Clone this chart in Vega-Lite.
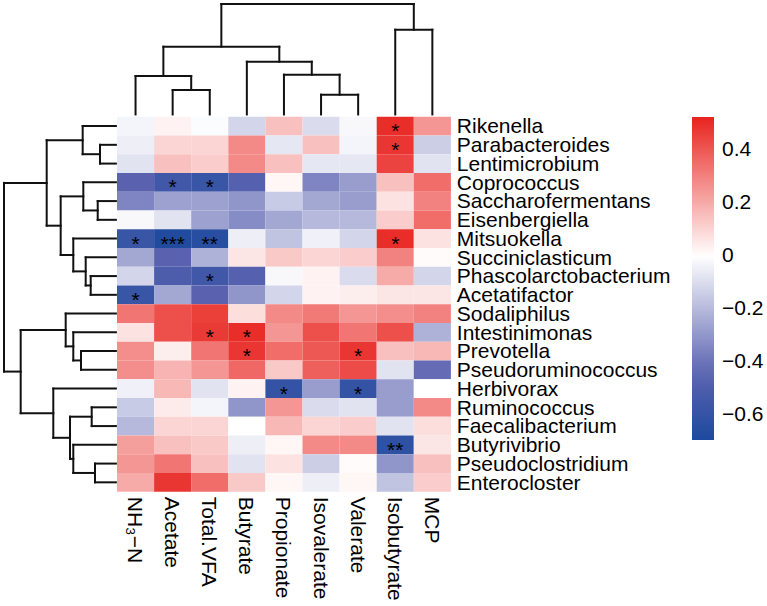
{
  "$schema": "https://vega.github.io/schema/vega-lite/v6.json",
  "width": 767,
  "height": 606,
  "autosize": {"type": "none"},
  "padding": 0,
  "background": "white",
  "config": {"view": {"stroke": null}, "font": "Liberation Sans"},
  "datasets": {
    "rowOrder": [
      {"taxon": "Rikenella", "r": 0},
      {"taxon": "Parabacteroides", "r": 1},
      {"taxon": "Lentimicrobium", "r": 2},
      {"taxon": "Coprococcus", "r": 3},
      {"taxon": "Saccharofermentans", "r": 4},
      {"taxon": "Eisenbergiella", "r": 5},
      {"taxon": "Mitsuokella", "r": 6},
      {"taxon": "Succiniclasticum", "r": 7},
      {"taxon": "Phascolarctobacterium", "r": 8},
      {"taxon": "Acetatifactor", "r": 9},
      {"taxon": "Sodaliphilus", "r": 10},
      {"taxon": "Intestinimonas", "r": 11},
      {"taxon": "Prevotella", "r": 12},
      {"taxon": "Pseudoruminococcus", "r": 13},
      {"taxon": "Herbivorax", "r": 14},
      {"taxon": "Ruminococcus", "r": 15},
      {"taxon": "Faecalibacterium", "r": 16},
      {"taxon": "Butyrivibrio", "r": 17},
      {"taxon": "Pseudoclostridium", "r": 18},
      {"taxon": "Enterocloster", "r": 19}
    ],
    "colOrder": [
      {"key": "NH3N", "label": "NH₃−N", "c": 0},
      {"key": "Acetate", "label": "Acetate", "c": 1},
      {"key": "TotalVFA", "label": "Total.VFA", "c": 2},
      {"key": "Butyrate", "label": "Butyrate", "c": 3},
      {"key": "Propionate", "label": "Propionate", "c": 4},
      {"key": "Isovalerate", "label": "Isovalerate", "c": 5},
      {"key": "Valerate", "label": "Valerate", "c": 6},
      {"key": "Isobutyrate", "label": "Isobutyrate", "c": 7},
      {"key": "MCP", "label": "MCP", "c": 8}
    ],
    "cells": [
      {"taxon": "Rikenella", "NH3N": -0.03, "Acetate": 0.03, "TotalVFA": -0.01, "Butyrate": -0.12, "Propionate": 0.15, "Isovalerate": -0.10, "Valerate": -0.02, "Isobutyrate": 0.50, "MCP": 0.25},
      {"taxon": "Parabacteroides", "NH3N": -0.05, "Acetate": 0.10, "TotalVFA": 0.10, "Butyrate": 0.28, "Propionate": -0.07, "Isovalerate": 0.15, "Valerate": -0.03, "Isobutyrate": 0.48, "MCP": -0.14},
      {"taxon": "Lentimicrobium", "NH3N": -0.08, "Acetate": 0.15, "TotalVFA": 0.12, "Butyrate": 0.28, "Propionate": 0.15, "Isovalerate": -0.07, "Valerate": -0.07, "Isobutyrate": 0.45, "MCP": -0.08},
      {"taxon": "Coprococcus", "NH3N": -0.45, "Acetate": -0.55, "TotalVFA": -0.58, "Butyrate": -0.47, "Propionate": 0.02, "Isovalerate": -0.35, "Valerate": -0.28, "Isobutyrate": 0.15, "MCP": 0.35},
      {"taxon": "Saccharofermentans", "NH3N": -0.35, "Acetate": -0.27, "TotalVFA": -0.27, "Butyrate": -0.30, "Propionate": -0.15, "Isovalerate": -0.25, "Valerate": -0.28, "Isobutyrate": 0.07, "MCP": 0.30},
      {"taxon": "Eisenbergiella", "NH3N": -0.02, "Acetate": -0.08, "TotalVFA": -0.27, "Butyrate": -0.33, "Propionate": -0.25, "Isovalerate": -0.20, "Valerate": -0.20, "Isobutyrate": 0.12, "MCP": 0.35},
      {"taxon": "Mitsuokella", "NH3N": -0.58, "Acetate": -0.68, "TotalVFA": -0.65, "Butyrate": -0.05, "Propionate": -0.17, "Isovalerate": -0.04, "Valerate": -0.12, "Isobutyrate": 0.50, "MCP": 0.07},
      {"taxon": "Succiniclasticum", "NH3N": -0.25, "Acetate": -0.45, "TotalVFA": -0.22, "Butyrate": 0.06, "Propionate": 0.13, "Isovalerate": 0.10, "Valerate": 0.12, "Isobutyrate": 0.30, "MCP": 0.01},
      {"taxon": "Phascolarctobacterium", "NH3N": -0.12, "Acetate": -0.50, "TotalVFA": -0.55, "Butyrate": -0.47, "Propionate": -0.02, "Isovalerate": 0.03, "Valerate": -0.10, "Isobutyrate": 0.20, "MCP": -0.12},
      {"taxon": "Acetatifactor", "NH3N": -0.58, "Acetate": -0.25, "TotalVFA": -0.45, "Butyrate": -0.30, "Propionate": -0.12, "Isovalerate": 0.03, "Valerate": 0.04, "Isobutyrate": 0.06, "MCP": 0.06},
      {"taxon": "Sodaliphilus", "NH3N": 0.33, "Acetate": 0.42, "TotalVFA": 0.46, "Butyrate": 0.08, "Propionate": 0.28, "Isovalerate": 0.32, "Valerate": 0.25, "Isobutyrate": 0.27, "MCP": 0.30},
      {"taxon": "Intestinimonas", "NH3N": 0.07, "Acetate": 0.42, "TotalVFA": 0.47, "Butyrate": 0.50, "Propionate": 0.25, "Isovalerate": 0.42, "Valerate": 0.33, "Isobutyrate": 0.42, "MCP": -0.22},
      {"taxon": "Prevotella", "NH3N": 0.27, "Acetate": 0.04, "TotalVFA": 0.33, "Butyrate": 0.48, "Propionate": 0.35, "Isovalerate": 0.40, "Valerate": 0.48, "Isobutyrate": 0.15, "MCP": 0.17},
      {"taxon": "Pseudoruminococcus", "NH3N": 0.27, "Acetate": 0.18, "TotalVFA": 0.25, "Butyrate": 0.36, "Propionate": 0.13, "Isovalerate": 0.38, "Valerate": 0.43, "Isobutyrate": -0.08, "MCP": -0.42},
      {"taxon": "Herbivorax", "NH3N": -0.04, "Acetate": 0.17, "TotalVFA": -0.08, "Butyrate": 0.03, "Propionate": -0.60, "Isovalerate": -0.28, "Valerate": -0.60, "Isobutyrate": -0.28, "MCP": 0.00},
      {"taxon": "Ruminococcus", "NH3N": -0.15, "Acetate": 0.05, "TotalVFA": -0.03, "Butyrate": -0.30, "Propionate": 0.25, "Isovalerate": -0.10, "Valerate": -0.08, "Isobutyrate": -0.28, "MCP": 0.28},
      {"taxon": "Faecalibacterium", "NH3N": -0.20, "Acetate": 0.10, "TotalVFA": 0.10, "Butyrate": 0.00, "Propionate": 0.17, "Isovalerate": 0.10, "Valerate": 0.12, "Isobutyrate": -0.08, "MCP": 0.08},
      {"taxon": "Butyrivibrio", "NH3N": 0.23, "Acetate": 0.15, "TotalVFA": 0.13, "Butyrate": -0.05, "Propionate": 0.02, "Isovalerate": 0.28, "Valerate": 0.28, "Isobutyrate": -0.62, "MCP": 0.06},
      {"taxon": "Pseudoclostridium", "NH3N": 0.25, "Acetate": 0.33, "TotalVFA": 0.15, "Butyrate": -0.08, "Propionate": 0.07, "Isovalerate": -0.14, "Valerate": 0.01, "Isobutyrate": -0.30, "MCP": 0.15},
      {"taxon": "Enterocloster", "NH3N": 0.20, "Acetate": 0.48, "TotalVFA": 0.35, "Butyrate": 0.13, "Propionate": 0.02, "Isovalerate": -0.05, "Valerate": 0.02, "Isobutyrate": -0.17, "MCP": 0.12}
    ],
    "stars": [
      {"taxon": "Rikenella", "key": "Isobutyrate", "s": "*"},
      {"taxon": "Parabacteroides", "key": "Isobutyrate", "s": "*"},
      {"taxon": "Coprococcus", "key": "Acetate", "s": "*"},
      {"taxon": "Coprococcus", "key": "TotalVFA", "s": "*"},
      {"taxon": "Mitsuokella", "key": "NH3N", "s": "*"},
      {"taxon": "Mitsuokella", "key": "Acetate", "s": "***"},
      {"taxon": "Mitsuokella", "key": "TotalVFA", "s": "**"},
      {"taxon": "Mitsuokella", "key": "Isobutyrate", "s": "*"},
      {"taxon": "Phascolarctobacterium", "key": "TotalVFA", "s": "*"},
      {"taxon": "Acetatifactor", "key": "NH3N", "s": "*"},
      {"taxon": "Intestinimonas", "key": "TotalVFA", "s": "*"},
      {"taxon": "Intestinimonas", "key": "Butyrate", "s": "*"},
      {"taxon": "Prevotella", "key": "Butyrate", "s": "*"},
      {"taxon": "Prevotella", "key": "Valerate", "s": "*"},
      {"taxon": "Herbivorax", "key": "Propionate", "s": "*"},
      {"taxon": "Herbivorax", "key": "Valerate", "s": "*"},
      {"taxon": "Butyrivibrio", "key": "Isobutyrate", "s": "**"}
    ],
    "rowTree": [
      {"a": -0.458, "b": -0.458, "p": 1.5, "q": 2.5},
      {"a": -0.03, "b": -0.458, "p": 1.5, "q": 1.5},
      {"a": -0.03, "b": -0.458, "p": 2.5, "q": 2.5},
      {"a": -0.925, "b": -0.925, "p": 0.5, "q": 2.0},
      {"a": -0.03, "b": -0.925, "p": 0.5, "q": 0.5},
      {"a": -0.458, "b": -0.925, "p": 2.0, "q": 2.0},
      {"a": -0.52, "b": -0.52, "p": 4.5, "q": 5.5},
      {"a": -0.03, "b": -0.52, "p": 4.5, "q": 4.5},
      {"a": -0.03, "b": -0.52, "p": 5.5, "q": 5.5},
      {"a": -0.908, "b": -0.908, "p": 3.5, "q": 5.0},
      {"a": -0.03, "b": -0.908, "p": 3.5, "q": 3.5},
      {"a": -0.52, "b": -0.908, "p": 5.0, "q": 5.0},
      {"a": -0.709, "b": -0.709, "p": 8.5, "q": 9.5},
      {"a": -0.03, "b": -0.709, "p": 8.5, "q": 8.5},
      {"a": -0.03, "b": -0.709, "p": 9.5, "q": 9.5},
      {"a": -0.844, "b": -0.844, "p": 7.5, "q": 9.0},
      {"a": -0.03, "b": -0.844, "p": 7.5, "q": 7.5},
      {"a": -0.709, "b": -0.844, "p": 9.0, "q": 9.0},
      {"a": -1.178, "b": -1.178, "p": 6.5, "q": 8.25},
      {"a": -0.03, "b": -1.178, "p": 6.5, "q": 6.5},
      {"a": -0.844, "b": -1.178, "p": 8.25, "q": 8.25},
      {"a": -1.518, "b": -1.518, "p": 4.25, "q": 7.375},
      {"a": -0.908, "b": -1.518, "p": 4.25, "q": 4.25},
      {"a": -1.178, "b": -1.518, "p": 7.375, "q": 7.375},
      {"a": -1.895, "b": -1.895, "p": 1.25, "q": 5.8125},
      {"a": -0.925, "b": -1.895, "p": 1.25, "q": 1.25},
      {"a": -1.518, "b": -1.895, "p": 5.8125, "q": 5.8125},
      {"a": -0.97, "b": -0.97, "p": 12.5, "q": 13.5},
      {"a": -0.03, "b": -0.97, "p": 12.5, "q": 12.5},
      {"a": -0.03, "b": -0.97, "p": 13.5, "q": 13.5},
      {"a": -1.178, "b": -1.178, "p": 11.5, "q": 13.0},
      {"a": -0.03, "b": -1.178, "p": 11.5, "q": 11.5},
      {"a": -0.97, "b": -1.178, "p": 13.0, "q": 13.0},
      {"a": -1.383, "b": -1.383, "p": 10.5, "q": 12.25},
      {"a": -0.03, "b": -1.383, "p": 10.5, "q": 10.5},
      {"a": -1.178, "b": -1.383, "p": 12.25, "q": 12.25},
      {"a": -0.682, "b": -0.682, "p": 15.5, "q": 16.5},
      {"a": -0.03, "b": -0.682, "p": 15.5, "q": 15.5},
      {"a": -0.03, "b": -0.682, "p": 16.5, "q": 16.5},
      {"a": -0.593, "b": -0.593, "p": 18.5, "q": 19.5},
      {"a": -0.03, "b": -0.593, "p": 18.5, "q": 18.5},
      {"a": -0.03, "b": -0.593, "p": 19.5, "q": 19.5},
      {"a": -1.178, "b": -1.178, "p": 17.5, "q": 19.0},
      {"a": -0.03, "b": -1.178, "p": 17.5, "q": 17.5},
      {"a": -0.593, "b": -1.178, "p": 19.0, "q": 19.0},
      {"a": -1.267, "b": -1.267, "p": 16.0, "q": 18.25},
      {"a": -0.682, "b": -1.267, "p": 16.0, "q": 16.0},
      {"a": -1.178, "b": -1.267, "p": 18.25, "q": 18.25},
      {"a": -1.717, "b": -1.717, "p": 14.5, "q": 17.125},
      {"a": -0.03, "b": -1.717, "p": 14.5, "q": 14.5},
      {"a": -1.267, "b": -1.717, "p": 17.125, "q": 17.125},
      {"a": -2.596, "b": -2.596, "p": 11.375, "q": 15.8125},
      {"a": -1.383, "b": -2.596, "p": 11.375, "q": 11.375},
      {"a": -1.717, "b": -2.596, "p": 15.8125, "q": 15.8125},
      {"a": -3.046, "b": -3.046, "p": 3.53125, "q": 13.59375},
      {"a": -1.895, "b": -3.046, "p": 3.53125, "q": 3.53125},
      {"a": -2.596, "b": -3.046, "p": 13.59375, "q": 13.59375}
    ],
    "colTree": [
      {"p": 1.5, "q": 2.5, "a": -1.424, "b": -1.424},
      {"p": 1.5, "q": 1.5, "a": -0.12, "b": -1.424},
      {"p": 2.5, "q": 2.5, "a": -0.12, "b": -1.424},
      {"p": 0.5, "q": 2.0, "a": -2.171, "b": -2.171},
      {"p": 0.5, "q": 0.5, "a": -0.12, "b": -2.171},
      {"p": 2.0, "q": 2.0, "a": -1.424, "b": -2.171},
      {"p": 5.5, "q": 6.5, "a": -1.173, "b": -1.173},
      {"p": 5.5, "q": 5.5, "a": -0.12, "b": -1.173},
      {"p": 6.5, "q": 6.5, "a": -0.12, "b": -1.173},
      {"p": 4.5, "q": 6.0, "a": -2.24, "b": -2.24},
      {"p": 4.5, "q": 4.5, "a": -0.12, "b": -2.24},
      {"p": 6.0, "q": 6.0, "a": -1.173, "b": -2.24},
      {"p": 3.5, "q": 5.25, "a": -2.933, "b": -2.933},
      {"p": 3.5, "q": 3.5, "a": -0.12, "b": -2.933},
      {"p": 5.25, "q": 5.25, "a": -2.24, "b": -2.933},
      {"p": 1.25, "q": 4.375, "a": -3.733, "b": -3.733},
      {"p": 1.25, "q": 1.25, "a": -2.171, "b": -3.733},
      {"p": 4.375, "q": 4.375, "a": -2.933, "b": -3.733},
      {"p": 7.5, "q": 8.5, "a": -4.64, "b": -4.64},
      {"p": 7.5, "q": 7.5, "a": -0.12, "b": -4.64},
      {"p": 8.5, "q": 8.5, "a": -0.12, "b": -4.64},
      {"p": 2.8125, "q": 8.0, "a": -6.011, "b": -6.011},
      {"p": 2.8125, "q": 2.8125, "a": -3.733, "b": -6.011},
      {"p": 8.0, "q": 8.0, "a": -4.64, "b": -6.011}
    ]
  },
  "layer": [
    {
      "data": {"name": "cells"},
      "transform": [
        {"fold": ["NH3N", "Acetate", "TotalVFA", "Butyrate", "Propionate", "Isovalerate", "Valerate", "Isobutyrate", "MCP"], "as": ["key", "v"]},
        {"lookup": "taxon", "from": {"data": {"name": "rowOrder"}, "key": "taxon", "fields": ["r"]}},
        {"lookup": "key", "from": {"data": {"name": "colOrder"}, "key": "key", "fields": ["c"]}},
        {"calculate": "datum.r + 1", "as": "r1"},
        {"calculate": "datum.c + 1", "as": "c1"}
      ],
      "mark": {"type": "rect", "strokeWidth": 0},
      "encoding": {
        "x": {"field": "c", "type": "quantitative", "axis": null, "scale": {"domain": [-3.1536, 17.5202], "nice": false, "zero": false}},
        "x2": {"field": "c1"},
        "y": {"field": "r", "type": "quantitative", "axis": null, "scale": {"domain": [-6.224, 26.096], "nice": false, "zero": false, "reverse": true}},
        "y2": {"field": "r1"},
        "color": {
          "field": "v",
          "type": "quantitative",
          "scale": {"domain": [-0.694, -0.45, 0, 0.526], "range": ["#1C4A9E", "#5A62B0", "#FFFFFF", "#E8231E"], "interpolate": "rgb"},
          "legend": {
            "orient": "none",
            "legendX": 692,
            "legendY": 117,
            "direction": "vertical",
            "title": null,
            "gradientLength": 323,
            "gradientThickness": 22,
            "gradientStrokeWidth": 0,
            "values": [-0.6, -0.4, -0.2, 0, 0.2, 0.4],
            "format": ".1~f",
            "labelFont": "Liberation Sans",
            "labelFontSize": 21,
            "labelColor": "#000000",
            "labelOffset": 8,
            "padding": 0
          }
        }
      }
    },
    {
      "data": {"name": "stars"},
      "transform": [
        {"lookup": "taxon", "from": {"data": {"name": "rowOrder"}, "key": "taxon", "fields": ["r"]}},
        {"lookup": "key", "from": {"data": {"name": "colOrder"}, "key": "key", "fields": ["c"]}},
        {"calculate": "datum.r + 0.5", "as": "rm"},
        {"calculate": "datum.c + 0.5", "as": "cm"}
      ],
      "mark": {"type": "text", "font": "Liberation Sans", "fontSize": 21, "color": "#000000", "baseline": "middle", "align": "center", "dy": 6},
      "encoding": {
        "x": {"field": "cm", "type": "quantitative", "axis": null, "scale": {"domain": [-3.1536, 17.5202], "nice": false, "zero": false}},
        "y": {"field": "rm", "type": "quantitative", "axis": null, "scale": {"domain": [-6.224, 26.096], "nice": false, "zero": false, "reverse": true}},
        "text": {"field": "s"}
      }
    },
    {
      "data": {"name": "rowOrder"},
      "transform": [{"calculate": "datum.r + 0.5", "as": "rm"}],
      "mark": {"type": "text", "font": "Liberation Sans", "fontSize": 21, "color": "#000000", "baseline": "alphabetic", "align": "left", "dy": 7.3},
      "encoding": {
        "x": {"datum": 9.16, "type": "quantitative", "axis": null, "scale": {"domain": [-3.1536, 17.5202], "nice": false, "zero": false}},
        "y": {"field": "rm", "type": "quantitative", "axis": null, "scale": {"domain": [-6.224, 26.096], "nice": false, "zero": false, "reverse": true}},
        "text": {"field": "taxon"}
      }
    },
    {
      "data": {"name": "colOrder"},
      "transform": [{"calculate": "datum.c + 0.5", "as": "cm"}],
      "mark": {"type": "text", "font": "Liberation Sans", "fontSize": 21, "color": "#000000", "baseline": "alphabetic", "align": "left", "angle": 90, "dy": 7.5},
      "encoding": {
        "x": {"field": "cm", "type": "quantitative", "axis": null, "scale": {"domain": [-3.1536, 17.5202], "nice": false, "zero": false}},
        "y": {"datum": 20.27, "type": "quantitative", "axis": null, "scale": {"domain": [-6.224, 26.096], "nice": false, "zero": false, "reverse": true}},
        "text": {"field": "label"}
      }
    },
    {
      "data": {"name": "rowTree"},
      "mark": {"type": "rule", "color": "#111111", "strokeWidth": 2, "strokeCap": "square"},
      "encoding": {
        "x": {"field": "a", "type": "quantitative", "axis": null, "scale": {"domain": [-3.1536, 17.5202], "nice": false, "zero": false}},
        "x2": {"field": "b"},
        "y": {"field": "p", "type": "quantitative", "axis": null, "scale": {"domain": [-6.224, 26.096], "nice": false, "zero": false, "reverse": true}},
        "y2": {"field": "q"}
      }
    },
    {
      "data": {"name": "colTree"},
      "mark": {"type": "rule", "color": "#111111", "strokeWidth": 2, "strokeCap": "square"},
      "encoding": {
        "x": {"field": "p", "type": "quantitative", "axis": null, "scale": {"domain": [-3.1536, 17.5202], "nice": false, "zero": false}},
        "x2": {"field": "q"},
        "y": {"field": "a", "type": "quantitative", "axis": null, "scale": {"domain": [-6.224, 26.096], "nice": false, "zero": false, "reverse": true}},
        "y2": {"field": "b"}
      }
    }
  ]
}
